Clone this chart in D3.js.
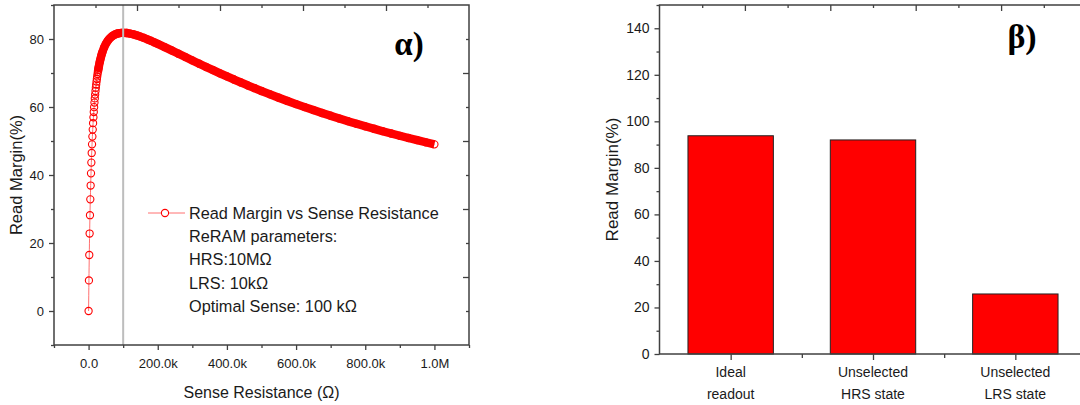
<!DOCTYPE html>
<html>
<head>
<meta charset="utf-8">
<script src="https://cdn.jsdelivr.net/npm/d3@7"></script>
<style>
  html, body { margin: 0; padding: 0; background: #fff; }
  svg { display: block; font-family: "Liberation Sans", Arial, sans-serif; }
</style>
</head>
<body>
<svg id="chart" width="1080" height="405"></svg>
<script>
// ---------------- DATA ----------------
// Left panel: sense resistance (kOhm) vs read margin (%)
const senseResK = [0,1,2,3,4,5,6,7,8,9,10,11,12,13,14,15,16,17,18,19,20,21,22,23,24,25,26,27,28,29,30,
  32,34,36,38,40,45,50,55,60,65,70,75,80,85,90,95,100,110,120,130,140,150,160,170,180,190,200,
  220,240,260,280,300,320,340,360,380,400,420,440,460,480,500,525,550,575,600,625,650,675,700,
  725,750,775,800,825,850,875,900,925,950,975,1000];
const readMargin = [0,8.99,16.47,22.78,28.17,32.84,36.90,40.48,43.65,46.48,49.01,51.29,53.36,55.24,56.95,58.52,
  59.96,61.29,62.52,63.65,64.71,65.69,66.60,67.45,68.24,68.99,69.69,70.34,70.96,71.54,72.09,
  73.09,73.98,74.79,75.51,76.15,77.51,78.57,79.40,80.05,80.56,80.96,81.26,81.48,81.64,81.74,81.80,81.82,
  81.76,81.59,81.35,81.05,80.71,80.32,79.91,79.48,79.03,78.57,
  77.62,76.65,75.66,74.68,73.70,72.73,71.77,70.83,69.90,68.99,68.10,67.22,66.37,65.53,64.71,63.70,62.73,
  61.78,60.86,59.96,59.09,58.24,57.42,56.61,55.83,55.06,54.32,53.60,52.89,52.20,51.53,50.88,50.24,49.62,49.01];
const optimalSenseK = 100;
const denseFromK = 27;   // beyond this the measured markers overlap into a solid band
const leftXTicks = [0, 200, 400, 600, 800, 1000];
const leftXTickLabels = ["0.0", "200.0k", "400.0k", "600.0k", "800.0k", "1.0M"];
const leftYTicks = [0, 20, 40, 60, 80];
const legendLines = ["Read Margin vs Sense Resistance", "ReRAM parameters:", "HRS:10M\u03A9", "LRS: 10k\u03A9", "Optimal Sense: 100 k\u03A9"];

// Right panel: bars
const barCategories = ["Ideal|readout", "Unselected|HRS state", "Unselected|LRS state"];
const barValues = [93.8, 92.0, 25.8];
const rightYTicks = [0, 20, 40, 60, 80, 100, 120, 140];

// ---------------- DRAW ----------------
const svg = d3.select("#chart");
const axisColor = "#404040";
const textColor = "#1a1a1a";

function ticks(g, scale, values, orient, size, labels, fs) {
  const ax = (orient === "bottom" ? d3.axisBottom : orient === "left" ? d3.axisLeft :
              orient === "top" ? d3.axisTop : d3.axisRight)(scale)
    .tickValues(values).tickSizeOuter(0).tickSizeInner(size).tickPadding(4);
  if (labels) ax.tickFormat((d, i) => labels[i]); else ax.tickFormat("");
  const sel = g.append("g").call(ax);
  sel.select(".domain").remove();
  sel.selectAll("line").attr("stroke", axisColor).attr("stroke-width", 1.3);
  sel.selectAll("text").attr("fill", textColor).style("font-size", (fs || 13) + "px")
     .style("font-family", "'Liberation Sans', Arial, sans-serif");
  return sel;
}

// ===== Left panel =====
const L = {x0: 54, x1: 469, y0: 5, y1: 345};
const xL = d3.scaleLinear().domain([-100, 1100]).range([L.x0, L.x1]);
const yL = d3.scaleLinear().domain([-10, 90]).range([L.y1, L.y0]);
const gL = svg.append("g");

// curve
const pts = senseResK.map((r, i) => [r, readMargin[i]]);
const line = d3.line().x(d => xL(d[0])).y(d => yL(d[1])).curve(d3.curveMonotoneX);
gL.append("path").datum(pts)
  .attr("fill", "none").attr("stroke", "#ff7070").attr("stroke-width", 1)
  .attr("d", line);
// dense part: overlapping markers form a solid red band
gL.append("path").datum(pts.filter(d => d[0] >= denseFromK))
  .attr("fill", "none").attr("stroke", "#ff0000").attr("stroke-width", 8.4)
  .attr("stroke-linecap", "butt").attr("stroke-linejoin", "round")
  .attr("d", line);
gL.append("g").selectAll("circle").data(pts).join("circle")
  .attr("cx", d => xL(d[0])).attr("cy", d => yL(d[1])).attr("r", 3.6)
  .attr("fill", "none").attr("stroke", "#ff0000").attr("stroke-width", 1.1);

// optimal line
gL.append("line")
  .attr("x1", xL(optimalSenseK)).attr("x2", xL(optimalSenseK))
  .attr("y1", L.y0).attr("y2", L.y1)
  .attr("stroke", "#bdbdbd").attr("stroke-width", 2);

// frame
gL.append("rect").attr("x", L.x0).attr("y", L.y0).attr("width", L.x1 - L.x0).attr("height", L.y1 - L.y0)
  .attr("fill", "none").attr("stroke", axisColor).attr("stroke-width", 1.5);

// bottom axis
const gLb = gL.append("g").attr("transform", `translate(0,${L.y1})`);
ticks(gLb, xL, leftXTicks, "bottom", 5, leftXTickLabels).selectAll("text").attr("dy", "1.05em");
ticks(gLb, xL, d3.range(-100, 1101, 200), "bottom", 3, null);
// left axis
const gLl = gL.append("g").attr("transform", `translate(${L.x0},0)`);
ticks(gLl, yL, leftYTicks, "left", 5, leftYTicks.map(String)).selectAll("text").attr("dx", "-1");
ticks(gLl, yL, d3.range(-10, 91, 20), "left", 3, null);
// top and right mirrored (inward) ticks
const tL = d3.scaleLinear().domain([0, 10]).range([L.x0, L.x1]);
const rL = d3.scaleLinear().domain([0, 10]).range([L.y1, L.y0]);
const gLt = gL.append("g").attr("transform", `translate(0,${L.y0})`);
ticks(gLt, tL, [2, 4, 6, 8], "bottom", 6, null);
ticks(gLt, tL, [1, 3, 5, 7, 9], "bottom", 3, null);
const gLr = gL.append("g").attr("transform", `translate(${L.x1},0)`);
ticks(gLr, rL, [2, 4, 6, 8], "left", 6, null);
ticks(gLr, rL, [1, 3, 5, 7, 9], "left", 3, null);

// titles
gL.append("text").attr("x", (L.x0 + L.x1) / 2).attr("y", 398).attr("text-anchor", "middle")
  .attr("fill", textColor).style("font-size", "16px").text("Sense Resistance (\u03A9)");
gL.append("text").attr("transform", `translate(22,${(L.y0 + L.y1) / 2}) rotate(-90)`)
  .attr("text-anchor", "middle").attr("fill", textColor).style("font-size", "16.5px").text("Read Margin(%)");
gL.append("text").attr("x", 409).attr("y", 55).attr("text-anchor", "middle")
  .style("font-family", "'Liberation Serif', 'DejaVu Serif', serif").style("font-weight", "bold")
  .style("font-size", "33px").attr("fill", "#000").text("\u03B1)");

// legend
const lg = gL.append("g").attr("transform", "translate(148,213)");
lg.append("line").attr("x1", 0).attr("x2", 37).attr("y1", 0).attr("y2", 0)
  .attr("stroke", "#ff7070").attr("stroke-width", 1);
lg.append("circle").attr("cx", 17).attr("cy", 0).attr("r", 3.6)
  .attr("fill", "#fff").attr("stroke", "#ff0000").attr("stroke-width", 1.1);
lg.selectAll("text.lg").data(legendLines).join("text").attr("class", "lg")
  .attr("x", 41).attr("y", (d, i) => i * 23.3).attr("dy", "0.36em")
  .attr("fill", textColor).style("font-size", "16.3px").text(d => d);

// ===== Right panel =====
const R = {x0: 659.5, x1: 1086.5, y0: 5, y1: 354};
const xR = d3.scaleBand().domain(barCategories).range([R.x0, R.x1]).paddingInner(0.4).paddingOuter(0.2);
const yR = d3.scaleLinear().domain([0, 150]).range([R.y1, R.y0]);
const gR = svg.append("g");

gR.append("g").selectAll("rect").data(barCategories).join("rect")
  .attr("x", d => xR(d)).attr("width", xR.bandwidth())
  .attr("y", (d, i) => yR(barValues[i])).attr("height", (d, i) => yR(0) - yR(barValues[i]))
  .attr("fill", "#ff0000").attr("stroke", "#222").attr("stroke-width", 1);

gR.append("rect").attr("x", R.x0).attr("y", R.y0).attr("width", R.x1 - R.x0).attr("height", R.y1 - R.y0)
  .attr("fill", "none").attr("stroke", axisColor).attr("stroke-width", 1.5);

// left axis
const gRl = gR.append("g").attr("transform", `translate(${R.x0},0)`);
ticks(gRl, yR, rightYTicks, "left", 5, rightYTicks.map(String), 14).selectAll("text").attr("dx", "-1");
ticks(gRl, yR, d3.range(10, 151, 20), "left", 3, null);
// bottom axis: category ticks and in-between minor ticks
const catCenters = barCategories.map(c => xR(c) + xR.bandwidth() / 2);
const gRb = gR.append("g").attr("transform", `translate(0,${R.y1})`);
const cScale = d3.scaleLinear().domain([0, 2]).range([catCenters[0], catCenters[2]]);
ticks(gRb, cScale, [0, 1, 2], "bottom", 6, null);
ticks(gRb, cScale, [0.5, 1.5], "bottom", 4, null);
barCategories.forEach((c, i) => {
  const parts = c.split("|");
  const t = gRb.append("text").attr("x", catCenters[i]).attr("y", 23).attr("text-anchor", "middle")
    .attr("fill", textColor).style("font-size", "14px");
  parts.forEach((p, j) => t.append("tspan").attr("x", catCenters[i]).attr("dy", j === 0 ? 0 : 22).text(p));
});
// top axis inward ticks
const tR = d3.scaleLinear().domain([0, 10]).range([R.x0, R.x1]);
const gRt = gR.append("g").attr("transform", `translate(0,${R.y0})`);
ticks(gRt, tR, [2, 4, 6, 8], "bottom", 6, null);
ticks(gRt, tR, [1, 3, 5, 7, 9], "bottom", 3, null);

gR.append("text").attr("transform", `translate(618,${(R.y0 + R.y1) / 2}) rotate(-90)`)
  .attr("text-anchor", "middle").attr("fill", textColor).style("font-size", "17px").text("Read Margin(%)");
gR.append("text").attr("x", 1022).attr("y", 48).attr("text-anchor", "middle")
  .style("font-family", "'Liberation Serif', 'DejaVu Serif', serif").style("font-weight", "bold")
  .style("font-size", "34px").attr("fill", "#000").text("\u03B2)");
</script>
</body>
</html>
